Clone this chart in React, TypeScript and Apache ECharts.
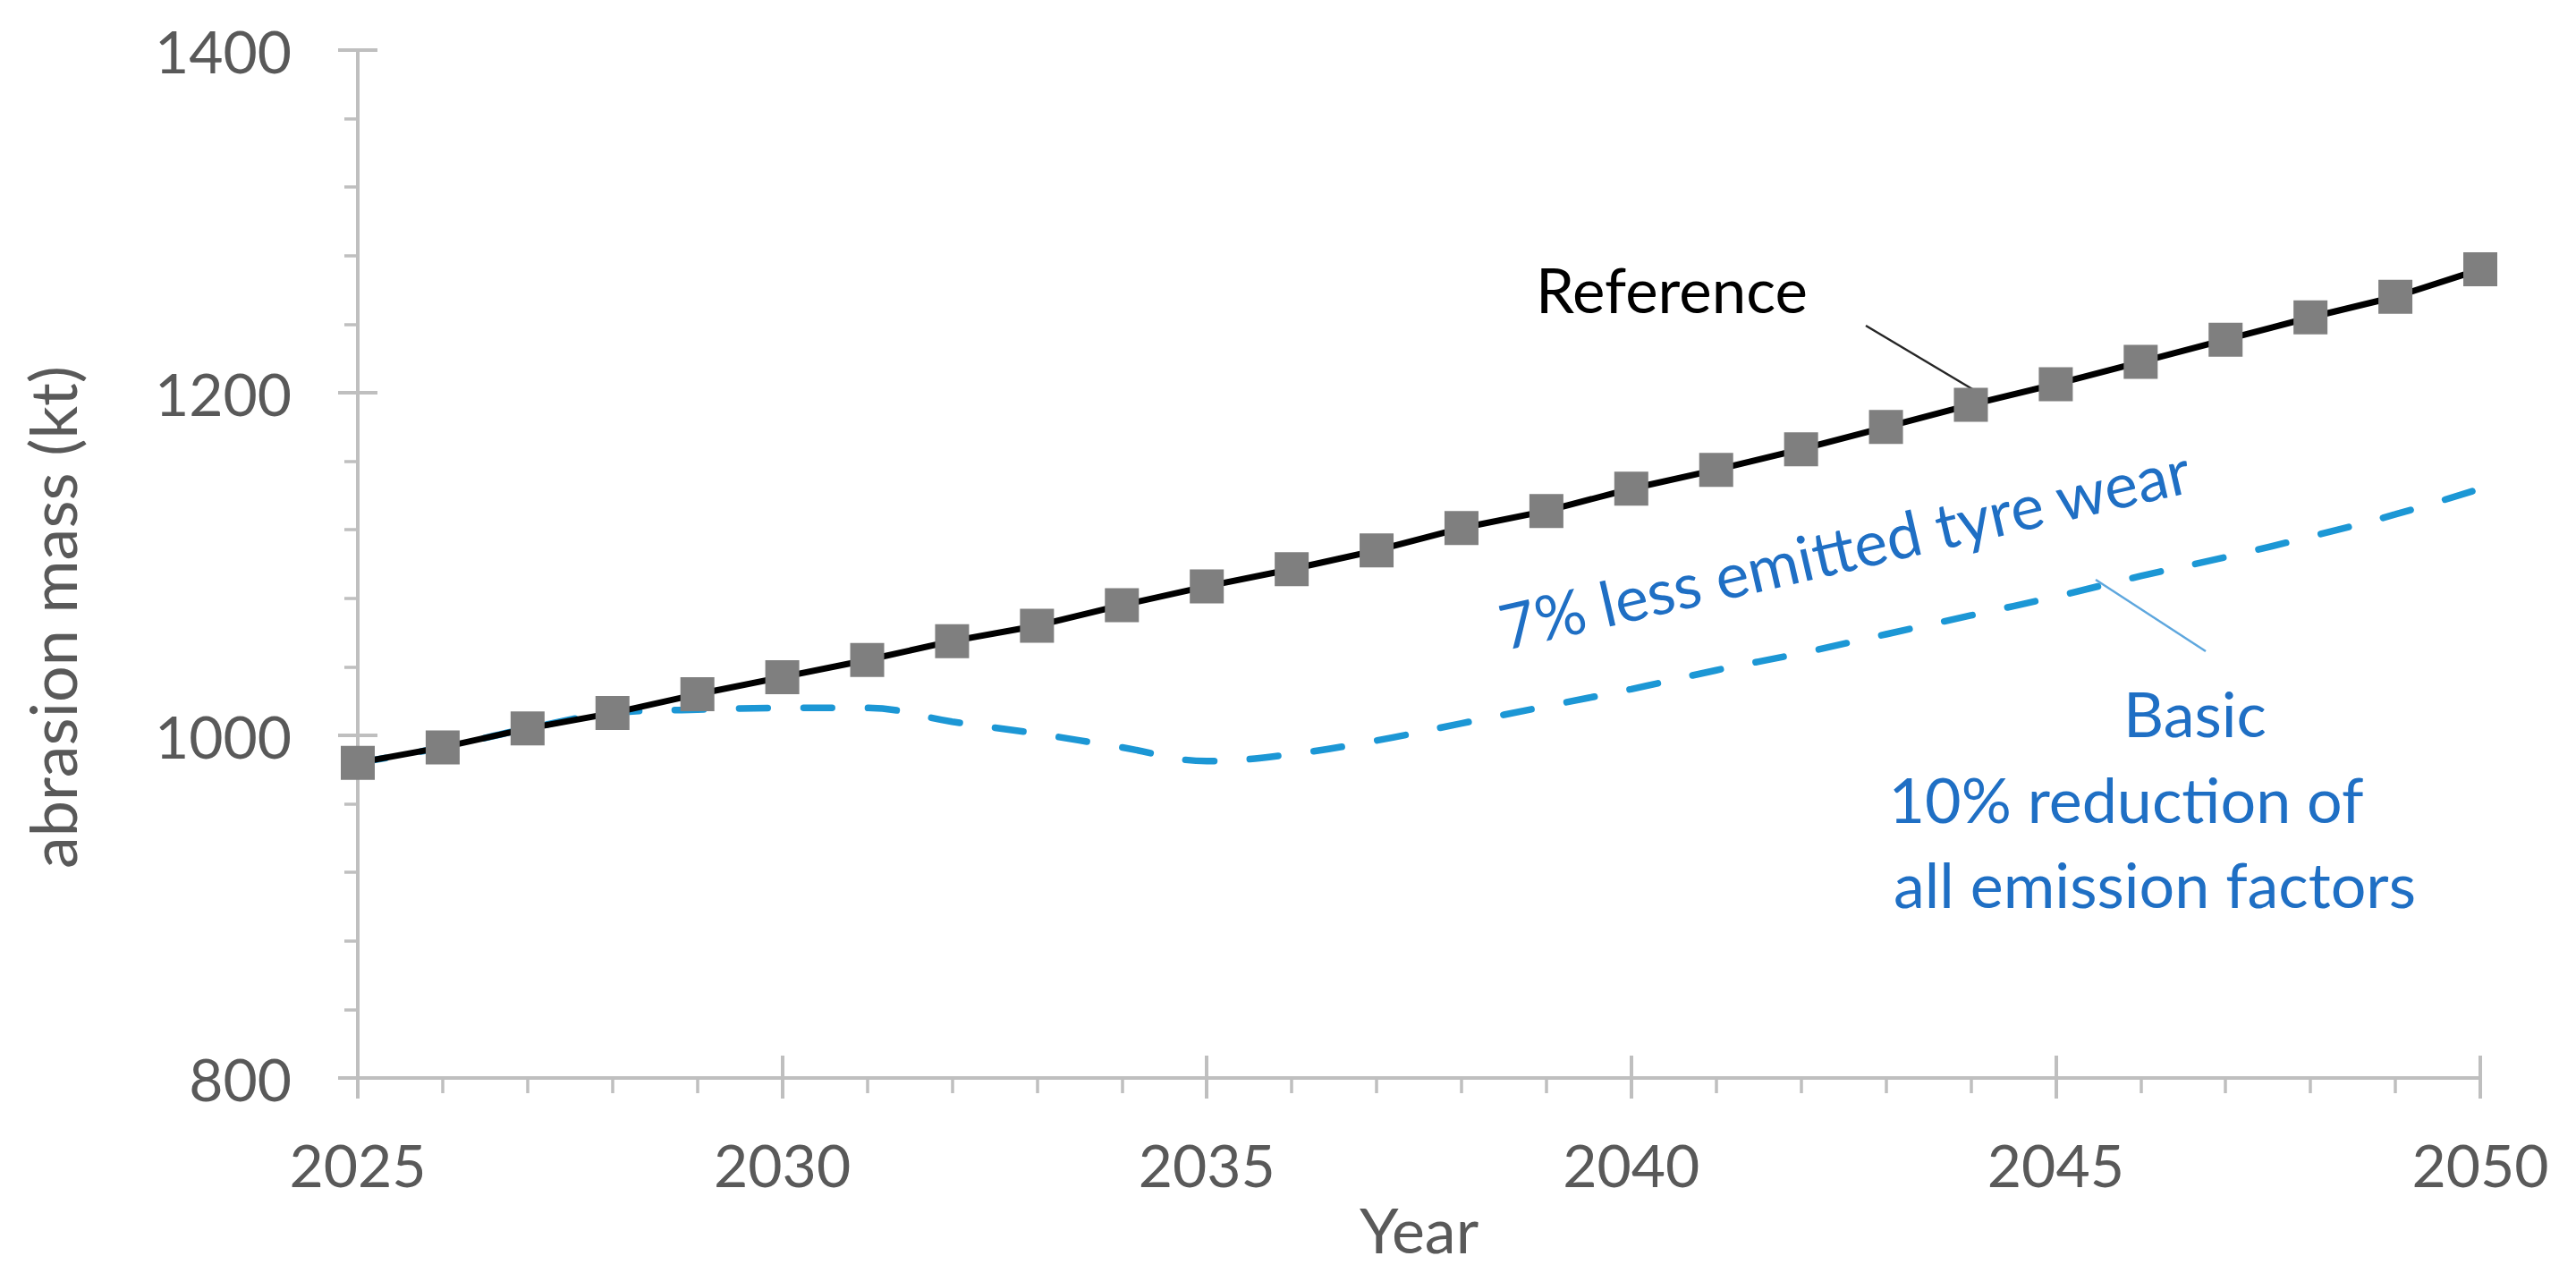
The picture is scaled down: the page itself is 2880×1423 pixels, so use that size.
import React, { useEffect, useRef } from "react";
import * as echarts from "echarts";

// ---- data ----
const years = [
  2025, 2026, 2027, 2028, 2029, 2030, 2031, 2032, 2033, 2034, 2035, 2036, 2037,
  2038, 2039, 2040, 2041, 2042, 2043, 2044, 2045, 2046, 2047, 2048, 2049, 2050,
];
const referenceKt = [
  984, 993, 1004, 1013, 1024, 1034, 1044, 1055, 1064, 1076, 1087, 1097, 1108,
  1121, 1131, 1144, 1155, 1167, 1180, 1193, 1205, 1218, 1231, 1244, 1256, 1272,
];
const basicKt = [
  984, 993, 1004, 1013, 1015, 1016, 1016, 1008, 1001, 993, 985, 989, 997,
  1007, 1017, 1027, 1038, 1048, 1059, 1070, 1081, 1093, 1104, 1116, 1129, 1144,
];
const xRange = [2025, 2050];
const yRange = [800, 1400];
const xStep = 5;
const yStep = 200;

const seriesNames = ["Basic 10% reduction of all emission factors", "Reference"];
const yAxisTitle = "abrasion mass (kt)";
const xAxisTitle = "Year";
const annoReference = "Reference";
const annoTyre = "7% less emitted tyre wear";
const annoBasic = ["Basic", "10% reduction of", "all emission factors"];

const FONT = "Lato, 'Noto Sans', 'DejaVu Sans', sans-serif";
const AXIS_GREY = "#BFBFBF";
const LABEL_GREY = "#595959";
const TEXT_BLUE = "#1F6FC4";
const LINE_BLUE = "#1C97D5";

export default function App() {
  const ref = useRef<HTMLDivElement>(null);

  useEffect(() => {
    if (!ref.current) return;
    const chart = echarts.init(ref.current, null, { renderer: "svg" });

    const tickStyle = { color: AXIS_GREY, width: 4 };

    const option: any = {
      animation: false,
      backgroundColor: "#ffffff",
      grid: { left: 400, right: 107, top: 56, bottom: 218, containLabel: false },
      xAxis: [
        {
          type: "value",
          min: xRange[0],
          max: xRange[1],
          interval: xStep,
          name: xAxisTitle,
          nameLocation: "middle",
          nameGap: 127,
          nameTextStyle: { fontFamily: FONT, fontSize: 70, color: LABEL_GREY },
          axisLine: { show: true, onZero: false, lineStyle: tickStyle },
          axisTick: { show: true, inside: false, length: 23, lineStyle: tickStyle },
          minorTick: { show: true, splitNumber: 5, length: 17, lineStyle: { color: AXIS_GREY, width: 3.5 } },
          axisLabel: {
            margin: 63,
            fontFamily: FONT,
            fontSize: 66,
            color: LABEL_GREY,
            formatter: (v: number) => String(v),
          },
          splitLine: { show: false },
          minorSplitLine: { show: false },
        },
        {
          type: "value",
          min: xRange[0],
          max: xRange[1],
          interval: xStep,
          position: "bottom",
          axisLine: { show: false, onZero: false },
          axisTick: { show: true, inside: true, length: 25, lineStyle: tickStyle },
          axisLabel: { show: false },
          splitLine: { show: false },
        },
      ],
      yAxis: [
        {
          type: "value",
          min: yRange[0],
          max: yRange[1],
          interval: yStep,
          axisLine: { show: true, onZero: false, lineStyle: tickStyle },
          axisTick: { show: true, inside: false, length: 22, lineStyle: tickStyle },
          minorTick: { show: true, splitNumber: 5, length: 15, lineStyle: { color: AXIS_GREY, width: 3.5 } },
          axisLabel: {
            margin: 74,
            fontFamily: FONT,
            fontSize: 66,
            color: LABEL_GREY,
            formatter: (v: number) => String(v),
          },
          splitLine: { show: false },
          minorSplitLine: { show: false },
        },
        {
          type: "value",
          min: yRange[0],
          max: yRange[1],
          interval: yStep,
          position: "left",
          axisLine: { show: false, onZero: false },
          axisTick: { show: true, inside: true, length: 22, lineStyle: tickStyle },
          axisLabel: { show: false },
          splitLine: { show: false },
        },
      ],
      series: [
        {
          name: seriesNames[0],
          type: "line",
          xAxisIndex: 0,
          yAxisIndex: 0,
          data: years.map((y, i) => [y, basicKt[i]]),
          smooth: 0.4,
          symbol: "none",
          clip: false,
          lineStyle: { color: LINE_BLUE, width: 7.5, type: [32, 40], cap: "round" },
          z: 2,
        },
        {
          name: seriesNames[1],
          type: "line",
          xAxisIndex: 0,
          yAxisIndex: 0,
          data: years.map((y, i) => [y, referenceKt[i]]),
          symbol: "rect",
          symbolSize: 38,
          showSymbol: true,
          clip: false,
          lineStyle: { color: "#000000", width: 7 },
          itemStyle: { color: "#7F7F7F" },
          z: 3,
        },
      ],
      graphic: [
        {
          type: "text",
          x: 58,
          y: 690,
          rotation: Math.PI / 2,
          style: {
            text: yAxisTitle,
            fontFamily: FONT,
            fontSize: 72,
            fill: LABEL_GREY,
            align: "center",
            verticalAlign: "middle",
          },
        },
        {
          type: "text",
          x: 1869,
          y: 323,
          style: {
            text: annoReference,
            fontFamily: FONT,
            fontSize: 69,
            fill: "#000000",
            align: "center",
            verticalAlign: "middle",
          },
        },
        {
          type: "line",
          shape: { x1: 2086, y1: 364, x2: 2222, y2: 445 },
          style: { stroke: "#262626", lineWidth: 2.5 },
        },
        {
          type: "text",
          x: 2062,
          y: 612,
          rotation: (13 * Math.PI) / 180,
          style: {
            text: annoTyre,
            fontFamily: FONT,
            fontSize: 70,
            fill: TEXT_BLUE,
            align: "center",
            verticalAlign: "middle",
          },
        },
        {
          type: "line",
          shape: { x1: 2343, y1: 648, x2: 2466, y2: 728 },
          style: { stroke: "#5EA7DE", lineWidth: 2.5 },
        },
        {
          type: "text",
          x: 2454,
          y: 797,
          style: {
            text: annoBasic[0],
            fontFamily: FONT,
            fontSize: 70,
            fill: TEXT_BLUE,
            align: "center",
            verticalAlign: "middle",
          },
        },
        {
          type: "text",
          x: 2377,
          y: 893,
          style: {
            text: annoBasic[1],
            fontFamily: FONT,
            fontSize: 70,
            fill: TEXT_BLUE,
            align: "center",
            verticalAlign: "middle",
          },
        },
        {
          type: "text",
          x: 2409,
          y: 988,
          style: {
            text: annoBasic[2],
            fontFamily: FONT,
            fontSize: 70,
            fill: TEXT_BLUE,
            align: "center",
            verticalAlign: "middle",
          },
        },
      ],
    };

    chart.setOption(option);
    const onResize = () => chart.resize();
    window.addEventListener("resize", onResize);
    return () => {
      window.removeEventListener("resize", onResize);
      chart.dispose();
    };
  }, []);

  return (
    <div
      ref={ref}
      style={{
        position: "absolute",
        left: 0,
        top: 0,
        width: "2880px",
        height: "1423px",
        background: "#ffffff",
      }}
    />
  );
}
